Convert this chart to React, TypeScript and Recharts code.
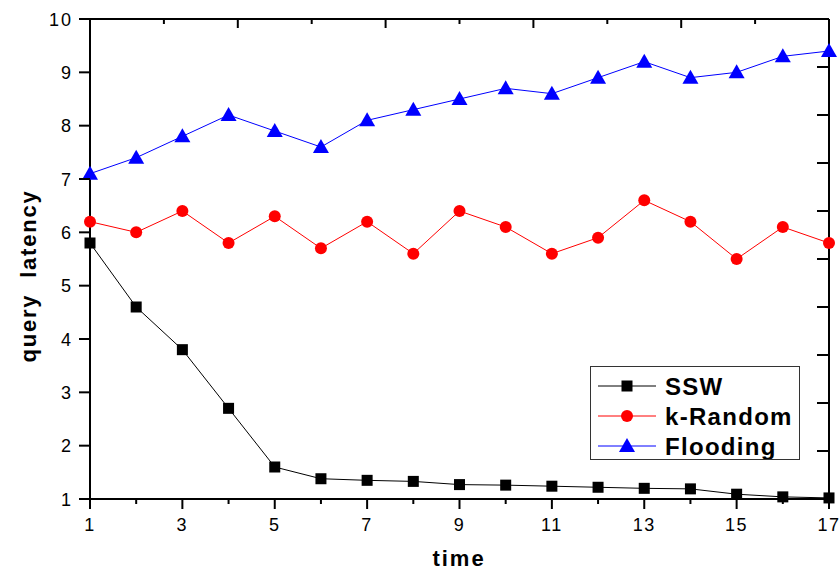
import React from 'react';
import { LineChart, Line, XAxis, YAxis, Legend, Label } from 'recharts';

// time steps and the three query latency series
const times = [1, 2, 3, 4, 5, 6, 7, 8, 9, 10, 11, 12, 13, 14, 15, 16, 17];
const ssw = [5.8, 4.6, 3.8, 2.7, 1.6, 1.38, 1.35, 1.33, 1.27, 1.26, 1.24, 1.22, 1.2, 1.19, 1.09, 1.04, 1.02];
const kRandom = [6.2, 6.0, 6.4, 5.8, 6.3, 5.7, 6.2, 5.6, 6.4, 6.1, 5.6, 5.9, 6.6, 6.2, 5.5, 6.1, 5.8];
const flooding = [7.1, 7.4, 7.8, 8.2, 7.9, 7.6, 8.1, 8.3, 8.5, 8.7, 8.6, 8.9, 9.2, 8.9, 9.0, 9.3, 9.4];

const yTicks = [1, 2, 3, 4, 5, 6, 7, 8, 9, 10];
// the top and right frame edges carry 10 even divisions, unlabeled
const frameSteps = [0, 1, 2, 3, 4, 5, 6, 7, 8, 9, 10];
const topTicks = frameSteps.map((k) => 1 + 1.6 * k);
const rightTicks = frameSteps.map((k) => 1 + 0.9 * k);

const series = [
  { key: 'ssw', name: 'SSW', color: '#000000', shape: 'square' },
  { key: 'kRandom', name: 'k-Random', color: '#ff0000', shape: 'circle' },
  { key: 'flooding', name: 'Flooding', color: '#0000ff', shape: 'triangle' },
];

const data = times.map((t, i) => ({ t, ssw: ssw[i], kRandom: kRandom[i], flooding: flooding[i] }));

const FONT = '"Liberation Sans", Arial, sans-serif';

const Marker = ({ cx, cy, shape, color }: any) => {
  if (cx == null || cy == null) return <g />;
  if (shape === 'square') return <rect x={cx - 5.5} y={cy - 5.5} width={11} height={11} fill={color} />;
  if (shape === 'circle') return <circle cx={cx} cy={cy} r={6} fill={color} />;
  return <polygon points={`${cx},${cy - 8} ${cx - 8},${cy + 6} ${cx + 8},${cy + 6}`} fill={color} />;
};

const BottomTick = ({ x, y, payload }: any) => {
  const major = payload.value % 2 === 1;
  return (
    <g>
      <line x1={x} x2={x} y1={y} y2={y + (major ? 10 : 5)} stroke="#000" strokeWidth={2} />
      {major && (
        <text x={x} y={y + 32} textAnchor="middle" fontFamily={FONT} fontSize={18} letterSpacing={1.5} fill="#000">
          {payload.value}
        </text>
      )}
    </g>
  );
};

const LeftTick = ({ x, y, payload }: any) => (
  <g>
    <line x1={x - 11} x2={x} y1={y} y2={y} stroke="#000" strokeWidth={2} />
    <text x={x - 17} y={y + 6.5} textAnchor="end" fontFamily={FONT} fontSize={18} letterSpacing={2} fill="#000">
      {payload.value}
    </text>
  </g>
);

const TopTick = ({ x, y, index }: any) => (
  <line x1={x} x2={x} y1={y} y2={y + (index % 2 === 0 ? 9 : 5)} stroke="#000" strokeWidth={2} />
);

const RightTick = ({ x, y }: any) => <line x1={x - 12} x2={x} y1={y} y2={y} stroke="#000" strokeWidth={2} />;

const LegendBox = () => (
  <div style={{ width: 210, height: 94, border: '1px solid #333', background: '#fff', boxSizing: 'border-box' }}>
    <svg width={208} height={92}>
      {series.map((s, i) => {
        const cy = 19 + i * 30;
        return (
          <g key={s.key}>
            <line x1={7} x2={65} y1={cy} y2={cy} stroke={s.color} strokeWidth={1} />
            <Marker cx={36} cy={cy} shape={s.shape} color={s.color} />
            <text x={74} y={cy + 8.5} fontFamily={FONT} fontWeight="bold" fontSize={24} letterSpacing={1.3} fill="#000">
              {s.name}
            </text>
          </g>
        );
      })}
    </svg>
  </div>
);

export default function App() {
  return (
    <div style={{ position: 'absolute', left: 0, top: 0, background: '#fff' }}>
      <LineChart width={840} height={570} data={data} margin={{ top: 18, right: 0, left: 0, bottom: 0 }}>
        <XAxis
          xAxisId="b"
          dataKey="t"
          type="number"
          domain={[1, 17]}
          ticks={times}
          interval={0}
          height={71}
          tickSize={0}
          tickMargin={0}
          tick={<BottomTick />}
          tickLine={false}
          axisLine={{ stroke: '#000', strokeWidth: 2 }}
        >
          <Label
            content={() => (
              <text x={459} y={566} textAnchor="middle" fontFamily={FONT} fontWeight="bold" fontSize={22} letterSpacing={2} fill="#000">
                time
              </text>
            )}
          />
        </XAxis>
        <XAxis
          xAxisId="top"
          orientation="top"
          dataKey="t"
          type="number"
          domain={[1, 17]}
          ticks={topTicks}
          interval={0}
          height={1}
          tickSize={0}
          tickMargin={0}
          tick={<TopTick />}
          tickLine={false}
          axisLine={{ stroke: '#000', strokeWidth: 2 }}
        />
        <YAxis
          yAxisId="l"
          type="number"
          domain={[1, 10]}
          ticks={yTicks}
          interval={0}
          width={90}
          tickSize={0}
          tickMargin={0}
          tick={<LeftTick />}
          tickLine={false}
          axisLine={{ stroke: '#000', strokeWidth: 2 }}
        >
          <Label
            content={() => (
              <text
                x={36}
                y={276}
                transform="rotate(-90 36 276)"
                textAnchor="middle"
                fontFamily={FONT}
                fontWeight="bold"
                fontSize={22}
                letterSpacing={1.8}
                fill="#000"
                style={{ whiteSpace: 'pre' }}
              >
                query  latency
              </text>
            )}
          />
        </YAxis>
        <YAxis
          yAxisId="r"
          orientation="right"
          type="number"
          domain={[1, 10]}
          ticks={rightTicks}
          interval={0}
          width={11}
          tickSize={0}
          tickMargin={0}
          tick={<RightTick />}
          tickLine={false}
          axisLine={{ stroke: '#000', strokeWidth: 2 }}
        />
        <Legend
          layout="vertical"
          align="center"
          verticalAlign="middle"
          content={() => <LegendBox />}
          wrapperStyle={{ position: 'absolute', left: 590, top: 366, width: 210, height: 94 }}
        />
        {/* invisible series so the top and right frame axes get a scale */}
        <Line
          xAxisId="top"
          yAxisId="r"
          dataKey="kRandom"
          stroke="none"
          dot={false}
          activeDot={false}
          legendType="none"
          isAnimationActive={false}
        />
        {series.map((s) => (
          <Line
            key={s.key}
            xAxisId="b"
            yAxisId="l"
            dataKey={s.key}
            name={s.name}
            type="linear"
            stroke={s.color}
            strokeWidth={1}
            dot={(p: any) => <Marker key={`${s.key}-${p.index}`} cx={p.cx} cy={p.cy} shape={s.shape} color={s.color} />}
            activeDot={false}
            isAnimationActive={false}
          />
        ))}
      </LineChart>
    </div>
  );
}
